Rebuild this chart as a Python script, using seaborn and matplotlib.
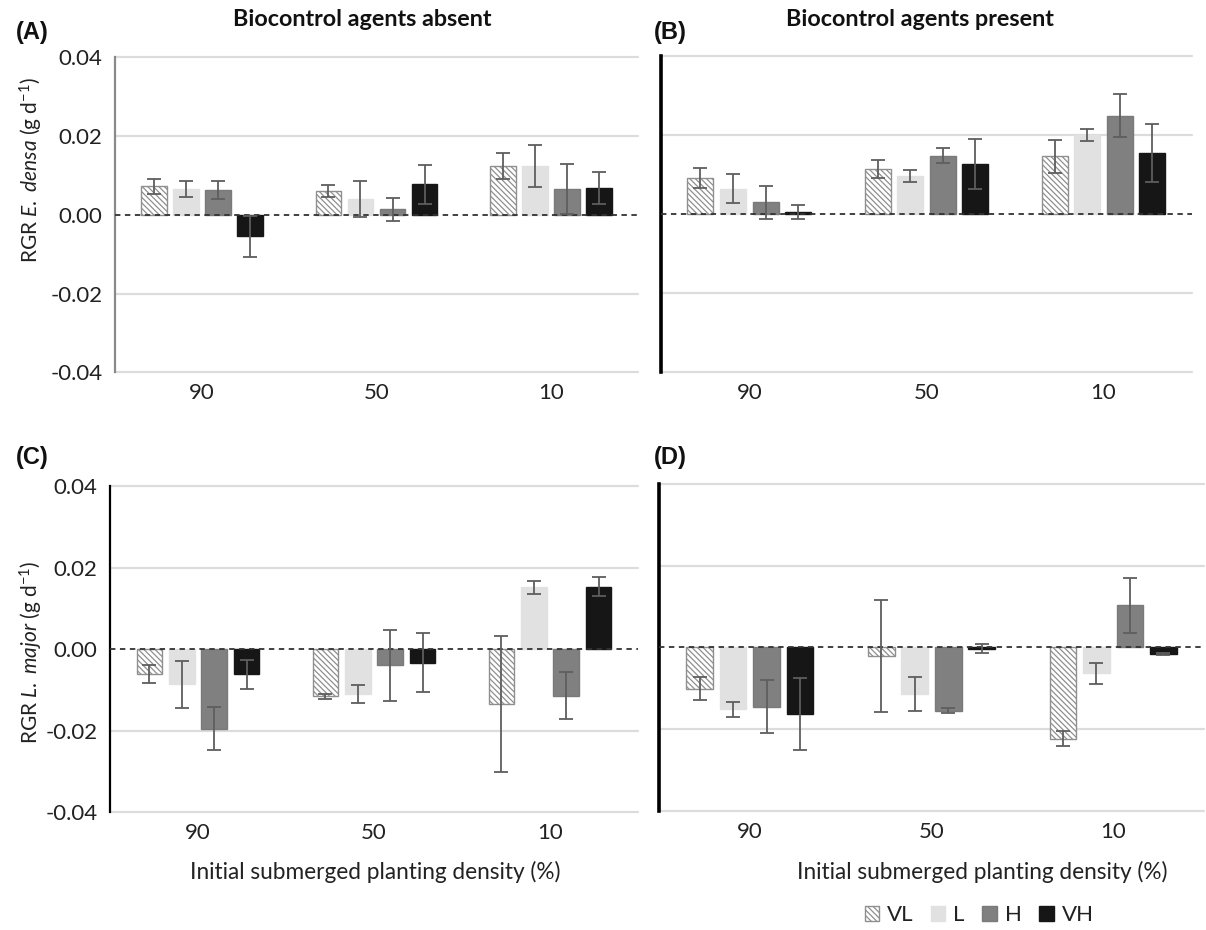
import numpy as np
import pandas as pd
import matplotlib
matplotlib.use("Agg")
import matplotlib.pyplot as plt
from matplotlib.container import BarContainer
import seaborn as sns

sns.set_theme(style="white")
plt.rcParams['font.family'] = ['Lato', 'DejaVu Sans']
plt.rcParams['mathtext.fontset'] = 'custom'
plt.rcParams['mathtext.rm'] = 'Lato'
plt.rcParams['mathtext.it'] = 'Lato:italic'
plt.rcParams['hatch.linewidth'] = 0.9

# ---------------- data ----------------
densities = ["90", "50", "10"]
treatments = ["VL", "L", "H", "VH"]
ytick_vals = [-0.04, -0.02, 0.0, 0.02, 0.04]
ytick_labels = ["-0.04", "-0.02", "0.00", "0.02", "0.04"]

# (A) E. densa, biocontrol agents absent
a_VL = [0.0072, 0.0060, 0.0124]; a_VL_err = [0.0020, 0.0015, 0.0033]
a_L = [0.0066, 0.0041, 0.0124];  a_L_err = [0.0021, 0.0046, 0.0053]
a_H = [0.0063, 0.0014, 0.0066];  a_H_err = [0.0024, 0.0029, 0.0064]
a_VH = [-0.0054, 0.0077, 0.0068]; a_VH_err = [0.0052, 0.0050, 0.0040]

# (B) E. densa, biocontrol agents present
b_VL = [0.0092, 0.0114, 0.0146]; b_VL_err = [0.0025, 0.0023, 0.0041]
b_L = [0.0064, 0.0097, 0.0200];  b_L_err = [0.0037, 0.0015, 0.0015]
b_H = [0.0030, 0.0148, 0.0249];  b_H_err = [0.0042, 0.0019, 0.0054]
b_VH = [0.0006, 0.0126, 0.0154]; b_VH_err = [0.0018, 0.0063, 0.0074]

# (C) L. major, biocontrol agents absent
c_VL = [-0.0062, -0.0116, -0.0134]; c_VL_err = [0.0022, 0.0006, 0.0166]
c_L = [-0.0086, -0.0111, 0.0152];   c_L_err = [0.0058, 0.0022, 0.0016]
c_H = [-0.0195, -0.0040, -0.0114];  c_H_err = [0.0053, 0.0088, 0.0057]
c_VH = [-0.0062, -0.0033, 0.0153];  c_VH_err = [0.0035, 0.0073, 0.0023]

# (D) L. major, biocontrol agents present
d_VL = [-0.0101, -0.0021, -0.0224]; d_VL_err = [0.0029, 0.0137, 0.0018]
d_L = [-0.0152, -0.0114, -0.0064];  d_L_err = [0.0019, 0.0042, 0.0026]
d_H = [-0.0145, -0.0155, 0.0103];   d_H_err = [0.0065, 0.0006, 0.0068]
d_VH = [-0.0163, -0.0003, -0.0016]; d_VH_err = [0.0089, 0.0010, 0.0003]

panels = {
    "A": ([a_VL, a_L, a_H, a_VH], [a_VL_err, a_L_err, a_H_err, a_VH_err]),
    "B": ([b_VL, b_L, b_H, b_VH], [b_VL_err, b_L_err, b_H_err, b_VH_err]),
    "C": ([c_VL, c_L, c_H, c_VH], [c_VL_err, c_L_err, c_H_err, c_VH_err]),
    "D": ([d_VL, d_L, d_H, d_VH], [d_VL_err, d_L_err, d_H_err, d_VH_err]),
}

palette = {"VL": "#ffffff", "L": "#e0e1e0", "H": "#808080", "VH": "#161616"}
edges = {"VL": "#8f8f8f", "L": "#e0e1e0", "H": "#7a7a7a", "VH": "#161616"}

W, H = 1206, 930
fig = plt.figure(figsize=(W / 100, H / 100), dpi=100)

def px_rect(x0, y0, x1, y1):
    return [x0 / W, 1 - y1 / H, (x1 - x0) / W, (y1 - y0) / H]

rects = {
    "A": px_rect(115, 57.3, 638, 372.3),
    "B": px_rect(660.7, 56, 1192, 372),
    "C": px_rect(110, 486, 638, 812.3),
    "D": px_rect(659, 484, 1204, 810.7),
}
spine_style = {"A": ("#8a8a8a", 1.6), "B": ("#000000", 2.6),
               "C": ("#000000", 1.6), "D": ("#000000", 2.6)}

TICK_FS = 16
axes = {}
bar_containers = {}
for key, (vals, errs) in panels.items():
    ax = fig.add_axes(rects[key])
    axes[key] = ax
    rows = []
    for t, series in zip(treatments, vals):
        for d, v in zip(densities, series):
            rows.append({"density": d, "treatment": t, "value": v})
    df = pd.DataFrame(rows)
    sns.barplot(data=df, x="density", y="value", hue="treatment",
                order=densities, hue_order=treatments, palette=palette,
                width=0.735, gap=0.2, errorbar=None, saturation=1,
                legend=False, ax=ax, zorder=3)
    conts = [c for c in ax.containers if isinstance(c, BarContainer)]
    bar_containers[key] = conts
    for t, cont, err in zip(treatments, conts, errs):
        xs, ys = [], []
        for bar in cont.patches:
            bar.set_edgecolor(edges[t])
            bar.set_linewidth(1.0)
            xs.append(bar.get_x() + bar.get_width() / 2)
            ys.append(bar.get_y() + bar.get_height())
            if t == "VL":
                bar.set_hatch("\\\\\\\\\\\\")
        ax.errorbar(xs, ys, yerr=err, fmt="none", ecolor="#5e5e5e",
                    elinewidth=1.3, capsize=5, capthick=1.3, zorder=5)
    ax.axhline(0, color="#333333", lw=1.3, ls=(0, (3, 2.5)), zorder=4)
    ax.set_ylim(-0.04, 0.04)
    ax.set_xlim(-0.5, 2.5)
    ax.set_yticks(ytick_vals)
    for yv in ytick_vals:
        if yv != 0:
            ax.axhline(yv, color="#dcdcdc", lw=1.6, zorder=1, clip_on=False)
    ax.set_xlabel("")
    ax.set_ylabel("")
    for s in ["top", "right", "bottom"]:
        ax.spines[s].set_visible(False)
    col, lw = spine_style[key]
    ax.spines["left"].set_color(col)
    ax.spines["left"].set_linewidth(lw)
    ax.tick_params(axis="both", length=0, labelsize=TICK_FS, colors="#222222")
    ax.tick_params(axis="x", pad=8)
    ax.tick_params(axis="y", pad=9)
    if key in ("A", "C"):
        ax.set_yticklabels(ytick_labels)
    else:
        ax.set_yticklabels([])

# titles and labels
fig.text(362 / W, 1 - 20 / H, "Biocontrol agents absent", ha="center", va="center",
         fontsize=16.8, fontweight="bold", color="#111111")
fig.text(920 / W, 1 - 20 / H, "Biocontrol agents present", ha="center", va="center",
         fontsize=16.8, fontweight="bold", color="#111111")
for lab, x, y in [("(A)", 16, 32), ("(B)", 654, 32), ("(C)", 16, 457), ("(D)", 654, 457)]:
    fig.text(x / W, 1 - y / H, lab, ha="left", va="center", fontsize=17,
             fontweight="bold", color="#111111", family="Liberation Sans")

fig.text(31 / W, 1 - 170 / H, r"RGR $\mathit{E.\ densa}$ (g d$^{\mathregular{-1}}$)",
         rotation=90, ha="center", va="center", fontsize=15, color="#222222")
fig.text(31 / W, 1 - 652 / H, r"RGR $\mathit{L.\ major}$ (g d$^{\mathregular{-1}}$)",
         rotation=90, ha="center", va="center", fontsize=15, color="#222222")

fig.text(375 / W, 1 - 872 / H, "Initial submerged planting density (%)",
         ha="center", va="center", fontsize=16.3, color="#222222")
fig.text(982 / W, 1 - 872 / H, "Initial submerged planting density (%)",
         ha="center", va="center", fontsize=16.3, color="#222222")

handles = [cont.patches[0] for cont in bar_containers["A"]]
fig.legend(handles, treatments, loc="center", bbox_to_anchor=(979 / W, 1 - 915 / H),
           ncol=4, frameon=False, fontsize=16, handlelength=0.65, handleheight=0.65,
           handletextpad=0.35, columnspacing=0.8, labelcolor="#222222")

fig.savefig("out.png", dpi=100)
